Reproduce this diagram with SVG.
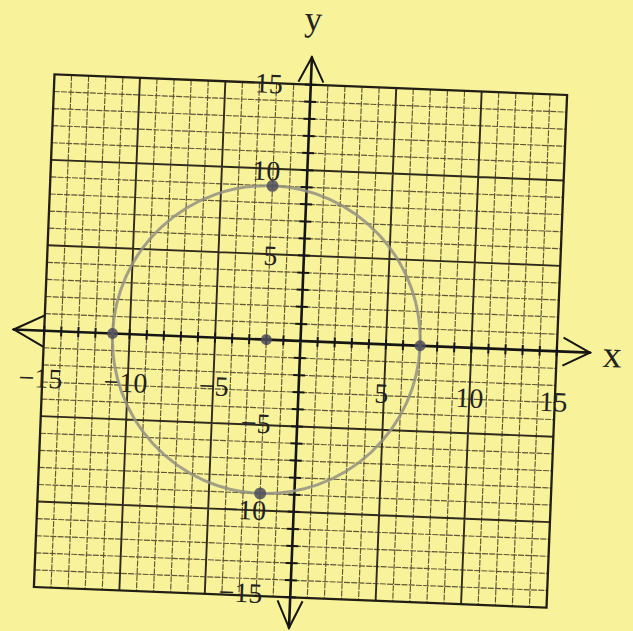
<svg xmlns="http://www.w3.org/2000/svg" width="633" height="631" viewBox="0 0 633 631">
  <style>
    .minor { fill: none; stroke: #5e5636; stroke-width: 1.15; stroke-dasharray: 6 1.2; }
    .major { fill: none; stroke: #2f2a1c; stroke-width: 1.9; }
    .border { fill: none; stroke: #221e14; stroke-width: 2.3; }
    .axis { fill: none; stroke: #151515; stroke-width: 2.6; stroke-linecap: round; }
    .tick { fill: none; stroke: #151515; stroke-width: 2; }
    .arrow { fill: none; stroke: #151515; stroke-width: 2; stroke-linejoin: miter; }
    .lbl { font-family: "Liberation Serif", "Times New Roman", serif; font-size: 28px; fill: #222; }
    .axlbl { font-family: "Liberation Serif", "Times New Roman", serif; fill: #222; }
    .curve { fill: none; stroke: #929284; stroke-width: 3; opacity: 0.85; }
    .pt { fill: #4e4e5a; opacity: 0.85; }
  </style>
  <rect x="0" y="0" width="633" height="631" fill="#f8f29a"/>
  <g id="plot" transform="translate(300.5,341) rotate(2.3)">
    <g id="grid">
      <path class="minor" d="M-239.4-256.5V256.5M-222.3-256.5V256.5M-205.2-256.5V256.5M-188.1-256.5V256.5M-153.9-256.5V256.5M-136.8-256.5V256.5M-119.7-256.5V256.5M-102.6-256.5V256.5M-68.4-256.5V256.5M-51.3-256.5V256.5M-34.2-256.5V256.5M-17.1-256.5V256.5M17.1-256.5V256.5M34.2-256.5V256.5M51.3-256.5V256.5M68.4-256.5V256.5M102.6-256.5V256.5M119.7-256.5V256.5M136.8-256.5V256.5M153.9-256.5V256.5M188.1-256.5V256.5M205.2-256.5V256.5M222.3-256.5V256.5M239.4-256.5V256.5"/>
      <path class="minor" d="M-256.5-239.4H256.5M-256.5-222.3H256.5M-256.5-205.2H256.5M-256.5-188.1H256.5M-256.5-153.9H256.5M-256.5-136.8H256.5M-256.5-119.7H256.5M-256.5-102.6H256.5M-256.5-68.4H256.5M-256.5-51.3H256.5M-256.5-34.2H256.5M-256.5-17.1H256.5M-256.5 17.1H256.5M-256.5 34.2H256.5M-256.5 51.3H256.5M-256.5 68.4H256.5M-256.5 102.6H256.5M-256.5 119.7H256.5M-256.5 136.8H256.5M-256.5 153.9H256.5M-256.5 188.1H256.5M-256.5 205.2H256.5M-256.5 222.3H256.5M-256.5 239.4H256.5"/>
      <path class="major" d="M-171-256.5V256.5M-85.5-256.5V256.5M85.5-256.5V256.5M171-256.5V256.5M-256.5-171H256.5M-256.5-85.5H256.5M-256.5 85.5H256.5M-256.5 171H256.5"/>
      <rect class="border" x="-256.5" y="-256.5" width="513" height="513"/>
    </g>
    <g id="axes">
      <path class="axis" d="M-287 0H289.7M0-284V287"/>
      <path class="tick" d="M-256.5-5V5M-239.4-5V5M-222.3-5V5M-205.2-5V5M-188.1-5V5M-171-5V5M-153.9-5V5M-136.8-5V5M-119.7-5V5M-102.6-5V5M-85.5-5V5M-68.4-5V5M-51.3-5V5M-34.2-5V5M-17.1-5V5M17.1-5V5M34.2-5V5M51.3-5V5M68.4-5V5M85.5-5V5M102.6-5V5M119.7-5V5M136.8-5V5M153.9-5V5M171-5V5M188.1-5V5M205.2-5V5M222.3-5V5M239.4-5V5M256.5-5V5"/>
      <path class="tick" d="M-6-256.5H6M-6-239.4H6M-6-222.3H6M-6-205.2H6M-6-188.1H6M-6-171H6M-6-153.9H6M-6-136.8H6M-6-119.7H6M-6-102.6H6M-6-85.5H6M-6-68.4H6M-6-51.3H6M-6-34.2H6M-6-17.1H6M-6 17.1H6M-6 34.2H6M-6 51.3H6M-6 68.4H6M-6 85.5H6M-6 102.6H6M-6 119.7H6M-6 136.8H6M-6 153.9H6M-6 171H6M-6 188.1H6M-6 205.2H6M-6 222.3H6M-6 239.4H6M-6 256.5H6"/>
      <path class="arrow" d="M-257-15L-287 0L-257 16"/>
      <path class="arrow" d="M262.7-14L289.7 0L262.7 14"/>
      <path class="arrow" d="M-12.5-259L0-284L12.5-259"/>
      <path class="arrow" d="M-12.5 260L0 287L12.5 260"/>
    </g>
    <g id="labels">
      <text class="axlbl" x="0" y="-311" font-size="35" text-anchor="middle">y</text>
      <text class="axlbl" x="312" y="13.5" font-size="38" text-anchor="middle">x</text>
      <text class="lbl" x="-28" y="-246.6" text-anchor="end">15</text>
      <text class="lbl" x="-27" y="-159.5" text-anchor="end">10</text>
      <text class="lbl" x="-26.5" y="-74.7" text-anchor="end">5</text>
      <text class="lbl" x="-26.5" y="93.4" text-anchor="end">−5</text>
      <text class="lbl" x="-27.5" y="180.3" text-anchor="end">−10</text>
      <text class="lbl" x="-28" y="263.3" text-anchor="end">−15</text>
      <text class="lbl" x="-236.4" y="57" text-anchor="end">−15</text>
      <text class="lbl" x="-151.3" y="58" text-anchor="end">−10</text>
      <text class="lbl" x="-70" y="58" text-anchor="end">−5</text>
      <text class="lbl" x="89.9" y="58.4" text-anchor="end">5</text>
      <text class="lbl" x="185" y="59.6" text-anchor="end">10</text>
      <text class="lbl" x="269" y="60.2" text-anchor="end">15</text>
    </g>
    <g id="circle">
      <circle class="curve" cx="-34.2" cy="0" r="153.9"/>
    </g>
    <g id="points">
      <circle class="pt" cx="-188.1" cy="0" r="5.5"/>
      <circle class="pt" cx="119.7" cy="0" r="5.5"/>
      <circle class="pt" cx="-34.2" cy="-153.9" r="6"/>
      <circle class="pt" cx="-34.2" cy="153.9" r="6"/>
      <circle class="pt" cx="-34.2" cy="0" r="5.5"/>
    </g>
  </g>
</svg>
